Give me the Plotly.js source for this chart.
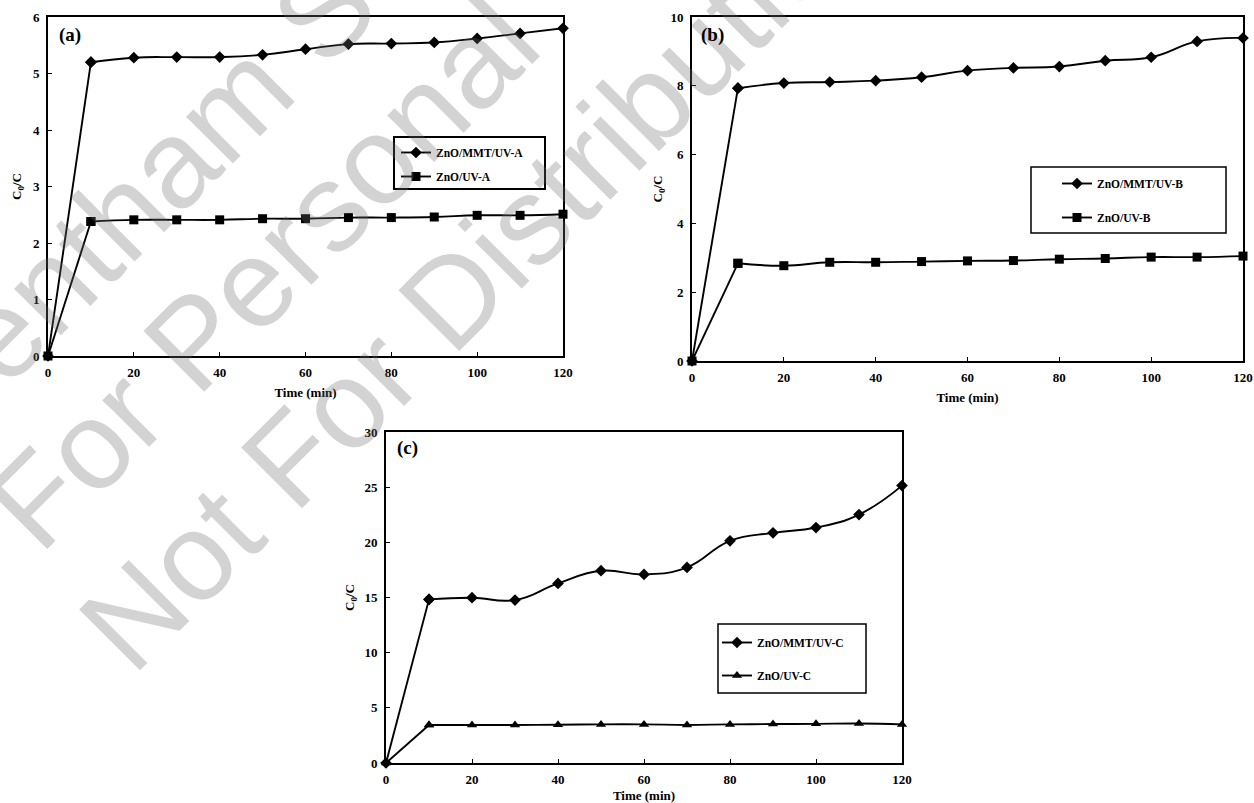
<!DOCTYPE html>
<html>
<head>
<meta charset="utf-8">
<script src="https://cdn.plot.ly/plotly-3.0.1.min.js"></script>
<style>html,body{margin:0;padding:0;background:#fff;}#chart{width:1254px;height:803px;}</style>
</head>
<body>
<div id="chart"></div>
<script>
// ---- data ----
const time = [0, 10, 20, 30, 40, 50, 60, 70, 80, 90, 100, 110, 120];
const aMMT = [0, 5.20, 5.28, 5.29, 5.29, 5.33, 5.43, 5.52, 5.53, 5.55, 5.62, 5.71, 5.80];
const aZnO = [0, 2.38, 2.41, 2.41, 2.41, 2.43, 2.43, 2.45, 2.45, 2.46, 2.49, 2.49, 2.51];
const bMMT = [0, 7.93, 8.08, 8.11, 8.15, 8.25, 8.44, 8.52, 8.56, 8.73, 8.83, 9.29, 9.39];
const bZnO = [0, 2.84, 2.77, 2.87, 2.87, 2.89, 2.91, 2.92, 2.96, 2.98, 3.02, 3.02, 3.05];
const cMMT = [0, 14.83, 14.98, 14.77, 16.28, 17.43, 17.09, 17.73, 20.14, 20.86, 21.34, 22.52, 25.14];
const cZnO = [0, 3.45, 3.45, 3.45, 3.47, 3.5, 3.5, 3.45, 3.5, 3.53, 3.55, 3.58, 3.5];
const namesA = ['ZnO/MMT/UV-A', 'ZnO/UV-A'];
const namesB = ['ZnO/MMT/UV-B', 'ZnO/UV-B'];
const namesC = ['ZnO/MMT/UV-C', 'ZnO/UV-C'];
const panelLabels = ['(a)', '(b)', '(c)'];
const xTitle = 'Time (min)';
const yTitle = 'C<sub>0</sub>/C';
const watermark = ['Bentham Science', 'For Personal', 'Not For Distribution'];

const FONT = 'Liberation Serif, Times New Roman, serif';

// each series: straight first segment (0 -> 10 min), smoothed curve afterwards
function series(y, name, sym, xa, ya, leg, grp) {
  const head = {
    x: time.slice(0, 2), y: y.slice(0, 2), type: 'scatter', mode: 'lines+markers',
    line: {color: '#000', width: 1.9}, marker: {symbol: sym, size: 9, color: '#000'},
    xaxis: xa, yaxis: ya, legend: leg, legendgroup: grp, showlegend: false,
    cliponaxis: false, hoverinfo: 'skip'
  };
  const body = {
    x: time.slice(1), y: y.slice(1), name: name, type: 'scatter', mode: 'lines+markers',
    line: {color: '#000', width: 1.9, shape: 'spline', smoothing: 1.3},
    marker: {symbol: sym, size: 9, color: '#000'},
    xaxis: xa, yaxis: ya, legend: leg, legendgroup: grp, cliponaxis: false
  };
  return [head, body];
}

const data = [].concat(
  series(aMMT, namesA[0], 'diamond', 'x', 'y', 'legend', 'a1'),
  series(aZnO, namesA[1], 'square', 'x', 'y', 'legend', 'a2'),
  series(bMMT, namesB[0], 'diamond', 'x2', 'y2', 'legend2', 'b1'),
  series(bZnO, namesB[1], 'square', 'x2', 'y2', 'legend2', 'b2'),
  series(cMMT, namesC[0], 'diamond', 'x3', 'y3', 'legend3', 'c1'),
  series(cZnO, namesC[1], 'triangle-up', 'x3', 'y3', 'legend3', 'c2')
);

const tickFont = {family: FONT, size: 13, color: '#000', weight: 'bold'};
function xax(domain, anchor) {
  return {
    domain: domain, anchor: anchor, range: [0, 120], dtick: 20, tick0: 0,
    showline: true, mirror: true, linecolor: '#000', linewidth: 1.8,
    ticks: 'inside', ticklen: 4, tickcolor: '#000', showgrid: false, zeroline: false,
    tickfont: tickFont, ticklabelstandoff: 3,
    title: {text: xTitle, font: {family: FONT, size: 13, color: '#000', weight: 'bold'}, standoff: 9}
  };
}
function yax(domain, anchor, max, dt, so) {
  return {
    domain: domain, anchor: anchor, range: [0, max], dtick: dt, tick0: 0,
    showline: true, mirror: true, linecolor: '#000', linewidth: 1.8,
    ticks: 'inside', ticklen: 4, tickcolor: '#000', showgrid: false, zeroline: false,
    tickfont: tickFont, ticklabelstandoff: 4,
    title: {text: yTitle, font: {family: FONT, size: 13, color: '#000', weight: 'bold'}, standoff: so}
  };
}
const legFont = {family: FONT, size: 11.5, color: '#000', weight: 'bold'};
function leg(x, y, gap) {
  return {x: x, y: y, xanchor: 'left', yanchor: 'top', bgcolor: 'rgba(0,0,0,0)',
          borderwidth: 0, font: legFont, tracegrouporder: 'normal', tracegroupgap: gap,
          itemwidth: 30};
}
function box(x0, x1, y0, y1, w) {
  return {type: 'rect', xref: 'paper', yref: 'paper', x0: x0, x1: x1, y0: y0, y1: y1,
          line: {color: '#000', width: w}, fillcolor: 'rgba(0,0,0,0)'};
}
function plabel(text, xref, yref, xv, yv) {
  return {text: text, xref: xref, yref: yref, x: xv, y: yv, showarrow: false,
          xanchor: 'left', yanchor: 'top', font: {family: FONT, size: 19, color: '#000', weight: 'bold'}};
}
function wm(text, xp, yp) {
  return {text: text, xref: 'paper', yref: 'paper', x: xp, y: yp, showarrow: false,
          xanchor: 'center', yanchor: 'middle', textangle: -45,
          font: {family: 'Liberation Sans, Arial, sans-serif', size: 125, color: 'rgba(110,110,110,0.30)'}};
}

const W = 1254, H = 803;
const px = v => v / W, py = v => 1 - v / H;

const layout = {
  width: W, height: H, paper_bgcolor: '#fff', plot_bgcolor: '#fff',
  margin: {l: 0, r: 0, t: 0, b: 0, autoexpand: false},
  showlegend: true,
  xaxis: xax([px(48), px(563)], 'y'),
  yaxis: yax([py(356), py(17)], 'x', 6, 1, 8),
  xaxis2: xax([px(692), px(1243)], 'y2'),
  yaxis2: yax([py(361), py(17)], 'x2', 10, 2, 5),
  xaxis3: xax([px(386), px(902)], 'y3'),
  yaxis3: yax([py(763), py(432)], 'x3', 30, 5, 7),
  legend: leg(px(396), py(138), 5),
  legend2: leg(px(1057), py(169), 15),
  legend3: leg(px(717), py(628), 14),
  shapes: [
    box(px(394), px(545), py(189), py(137), 2),
    box(px(1031), px(1226), py(233), py(167), 1.5),
    box(px(718), px(866), py(693), py(624), 1.5)
  ],
  annotations: [
    wm(watermark[0], px(262), py(72)),
    wm(watermark[1], px(262), py(272)),
    wm(watermark[2], px(482), py(266)),
    plabel(panelLabels[0], 'x domain', 'y domain', 0.017, 0.985),
    plabel(panelLabels[1], 'x2 domain', 'y2 domain', 0.012, 0.985),
    plabel(panelLabels[2], 'x3 domain', 'y3 domain', 0.017, 0.99)
  ]
};

Plotly.newPlot('chart', data, layout, {displayModeBar: false, responsive: false});
</script>
</body>
</html>
